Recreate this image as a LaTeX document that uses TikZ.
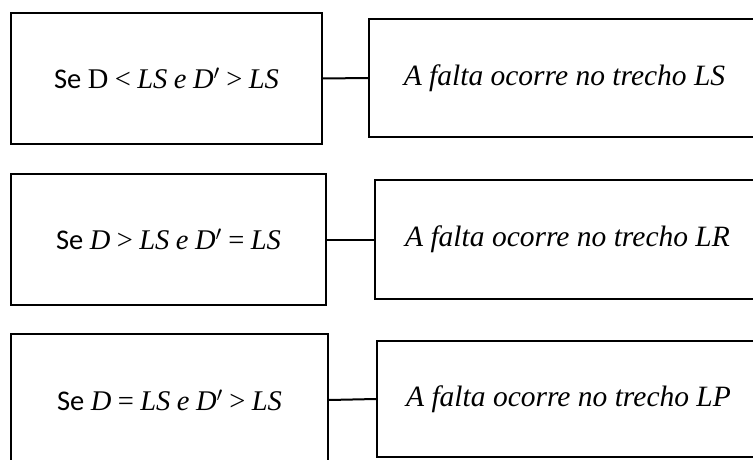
\documentclass[tikz,border=0pt]{standalone}
\usepackage{fontspec}
\setmainfont{Carlito}
\newfontfamily\mathserif{Liberation Serif}
\newcommand\mi[1]{{\mathserif\itshape #1}}
\newcommand\mr[1]{{\mathserif #1}}
\begin{document}
\begin{tikzpicture}[x=1pt,y=-1pt,
  box/.style={draw, line width=2pt, inner sep=0pt, anchor=center},
  cond/.style={box, font=\fontsize{28.5}{34}\selectfont},
  result/.style={box, font=\fontsize{29.5}{34}\selectfont},
  link/.style={line width=2pt}]
\useasboundingbox (0,0) rectangle (753,460);
\clip (0,0) rectangle (753,460);
\node[cond, minimum width=311pt, minimum height=131pt] (l1) at (166.5,78.5)
  {Se \mr{D} \mr{<} \mi{LS} \mi{e} \mi{D}\mr{$'$} \mr{>} \mi{LS}};
\node[result, minimum width=391pt, minimum height=118pt] (r1) at (564.5,78)
  {\mi{A falta ocorre no trecho LS}};
\node[cond, minimum width=315pt, minimum height=131pt] (l2) at (168.5,239.5)
  {Se \mi{D} \mr{>} \mi{LS} \mi{e} \mi{D}\mr{$'$} \mr{=} \mi{LS}};
\node[result, minimum width=385pt, minimum height=119pt] (r2) at (567.5,239.5)
  {\mi{A falta ocorre no trecho LR}};
\node[cond, minimum width=317pt, minimum height=132pt] (l3) at (169.5,400)
  {Se \mi{D} \mr{=} \mi{LS} \mi{e} \mi{D}\mr{$'$} \mr{>} \mi{LS}};
\node[result, minimum width=383pt, minimum height=116pt] (r3) at (568.5,399)
  {\mi{A falta ocorre no trecho LP}};
\draw[link] (l1.east) -- (r1.west);
\draw[link] (l2.east) -- (r2.west);
\draw[link] (l3.east) -- (r3.west);
\end{tikzpicture}
\end{document}
